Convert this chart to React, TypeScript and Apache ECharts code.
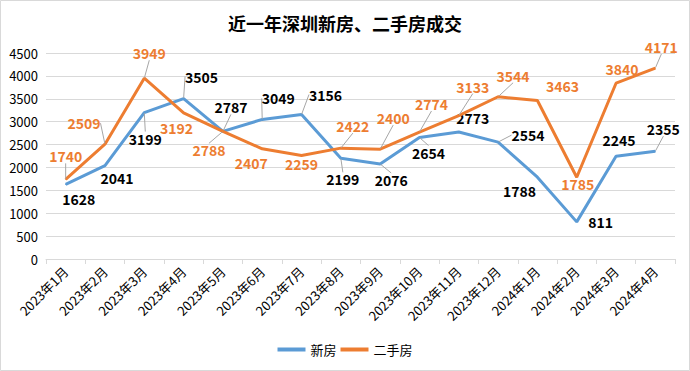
import React, { useEffect, useRef } from "react";
import * as echarts from "echarts";

const categories = [
  "2023年1月", "2023年2月", "2023年3月", "2023年4月", "2023年5月", "2023年6月",
  "2023年7月", "2023年8月", "2023年9月", "2023年10月", "2023年11月", "2023年12月",
  "2024年1月", "2024年2月", "2024年3月", "2024年4月",
];
const newHouse = [1628, 2041, 3199, 3505, 2787, 3049, 3156, 2199, 2076, 2654, 2773, 2554, 1788, 811, 2245, 2355];
const secondHand = [1740, 2509, 3949, 3192, 2788, 2407, 2259, 2422, 2400, 2774, 3133, 3544, 3463, 1785, 3840, 4171];
const seriesNames = ["新房", "二手房"];
const titleText = "近一年深圳新房、二手房成交";

// label offsets (style only): [dx, dy] relative to the point
const newOffsets: number[][] = [
  [13, 15], [12, 12], [1, 26], [18, -22], [8, -24], [16, -21], [24, -20], [2, 21],
  [11, 16], [9, 15], [14, -14], [30, -7], [-18, 14], [24, 0], [3, -16], [8, -22],
];
const oldOffsets: number[][] = [
  [0, -23], [-21, -21], [5, -25], [-7, 15], [-14, 19], [-11, 14], [0, 8], [12, -22],
  [13, -31], [12, -28], [14, -29], [15, -21], [25, -14], [1, 7], [6, -14], [6, -21],
];
const newLeaders = [2, 3, 4, 5, 6, 7, 8, 9, 11, 15];
const oldLeaders = [0, 1, 2, 4, 7, 8, 9, 10, 11, 15];

const FONT = '"Noto Sans CJK SC", "Noto Sans", sans-serif';
const BLUE = "#5B9BD5";
const ORANGE = "#ED7D31";

export default function App() {
  const ref = useRef<HTMLDivElement>(null);
  useEffect(() => {
    document.body.style.margin = "0";
    if (!ref.current) return;
    const chart = echarts.init(ref.current, undefined, { renderer: "svg" });
    const offsets = [newOffsets, oldOffsets];
    chart.setOption({
      animation: false,
      textStyle: { fontFamily: FONT },
      title: {
        text: titleText,
        left: "center",
        top: 9,
        textStyle: { fontSize: 18, fontWeight: "bold", color: "#000", fontFamily: FONT },
      },
      graphic: [
        {
          type: "rect",
          shape: { x: 0.5, y: 0.5, width: 689, height: 370 },
          style: { fill: "none", stroke: "#d9d9d9", lineWidth: 1 },
          silent: true,
        },
      ],
      legend: {
        bottom: 10,
        left: "center",
        icon: "rect",
        itemWidth: 28,
        itemHeight: 4,
        itemGap: 4,
        textStyle: { fontSize: 13, color: "#000", fontFamily: FONT },
        data: seriesNames,
      },
      grid: { left: 46, right: 15, top: 53, bottom: 112 },
      xAxis: {
        type: "category",
        data: categories,
        boundaryGap: true,
        axisLine: { lineStyle: { color: "#d9d9d9" } },
        axisTick: { show: true, length: 5, lineStyle: { color: "#d9d9d9" } },
        axisLabel: { rotate: 45, fontSize: 13, color: "#000", margin: 10, interval: 0, fontFamily: FONT },
      },
      yAxis: {
        type: "value",
        min: 0,
        max: 4500,
        interval: 500,
        axisLine: { show: false },
        axisTick: { show: false },
        axisLabel: {
          fontSize: 13,
          color: "#000",
          margin: 8,
          fontFamily: FONT,
          formatter: (v: number) => String(v),
        },
        splitLine: { lineStyle: { color: "#d9d9d9" } },
      },
      series: [
        {
          name: seriesNames[0],
          type: "line",
          data: newHouse.map((v, i) => ({ value: v, labelLine: { show: newLeaders.includes(i) } })),
          symbol: "circle",
          symbolSize: 1,
          showSymbol: true,
          lineStyle: { color: BLUE, width: 3 },
          itemStyle: { color: BLUE },
          label: {
            show: true,
            position: "inside",
            fontSize: 14,
            fontWeight: "bold",
            color: "#000",
            fontFamily: FONT,
          },
          labelLine: { show: true, lineStyle: { color: "#a6a6a6", width: 1 } },
          labelLayout: (p: any) => ({ dx: offsets[0][p.dataIndex][0], dy: offsets[0][p.dataIndex][1] }),
          z: 3,
        },
        {
          name: seriesNames[1],
          type: "line",
          data: secondHand.map((v, i) => ({ value: v, labelLine: { show: oldLeaders.includes(i) } })),
          symbol: "circle",
          symbolSize: 1,
          showSymbol: true,
          lineStyle: { color: ORANGE, width: 3 },
          itemStyle: { color: ORANGE },
          label: {
            show: true,
            position: "inside",
            fontSize: 14,
            fontWeight: "bold",
            color: ORANGE,
            fontFamily: FONT,
          },
          labelLine: { show: true, lineStyle: { color: "#a6a6a6", width: 1 } },
          labelLayout: (p: any) => ({ dx: offsets[1][p.dataIndex][0], dy: offsets[1][p.dataIndex][1] }),
          z: 4,
        },
      ],
    });
    return () => chart.dispose();
  }, []);
  return <div ref={ref} style={{ width: 690, height: 371 }} />;
}
